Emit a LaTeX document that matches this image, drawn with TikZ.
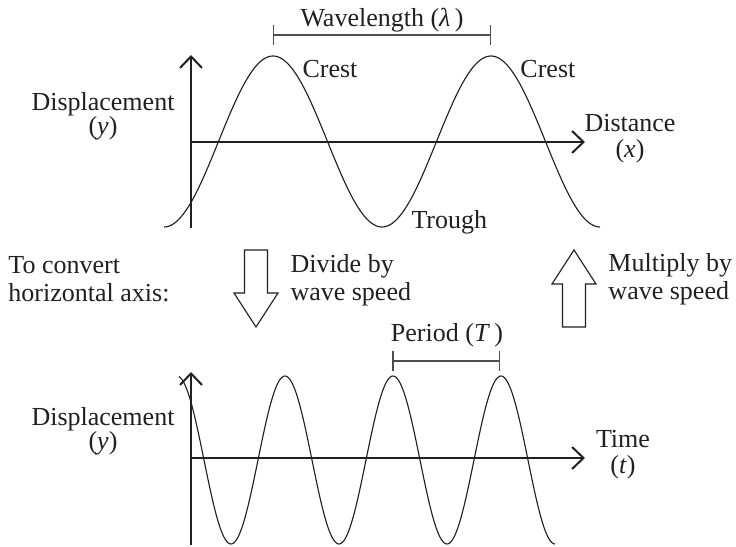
\documentclass[tikz,border=0pt]{standalone}
\usepackage{fontspec}
\setmainfont{Liberation Serif}
\usetikzlibrary{arrows.meta}
\definecolor{ink}{HTML}{231F20}
\definecolor{bar}{HTML}{4D4D4D}

\begin{document}
\begin{tikzpicture}[
  x=0.4pt,y=-0.4pt,
  font=\fontsize{10.4}{11.2}\selectfont,
  axis/.style={draw=ink,line width=.45pt,-{Straight Barb[length=4.6pt,width=8.8pt,line width=.8pt]}},
  wave/.style={draw=ink,line width=.45pt,samples=300,smooth},
  span/.style={draw=bar,line width=.5pt,{Bar[width=8pt]}-{Bar[width=8pt]}},
  blk/.style={draw=ink,line width=.45pt,fill=white},
  lab/.style={text=ink,inner sep=0pt,anchor=base west},
  ctr/.style={text=ink,inner sep=0pt,align=center,anchor=base}
]
\useasboundingbox (0,0) rectangle (736,547);

% distance graph
\coordinate (o1) at (191,142);
\coordinate (y1) at (191,55);
\coordinate (x1) at (585,142);
\draw[axis] (191,228) -- (y1);
\draw[axis] (o1) -- (x1);
\draw[wave] plot[domain=164:600] (\x,{141.5-85.5*cos((\x-273)/218*360)});
\coordinate (wa) at (273,35);
\coordinate (wb) at (491,35);
\draw[span] (wa) -- (wb);
\node[ctr] (wl) at (382,26) {Wavelength (\textit{λ}\,)};
\node[lab] (crest1) at (302,77) {Crest};
\node[lab] (crest2) at (520,77) {Crest};
\node[lab] (trough) at (411,228) {Trough};
% base of a two-line node = baseline of its last line
\node[ctr] (disp1) at (103,134) {Displacement\\[-1.6pt](\textit{y})};
\node[ctr] (dist) at (630,157) {Distance\\[-0.8pt](\textit{x})};

% conversion arrows
\node[lab,align=left] (conv) at (8,301) {To convert\\horizontal axis:};
\draw[blk,shift={(256,288.5)}] (-11.5,-38.5) -- (11.5,-38.5) -- (11.5,4.5) -- (22,4.5)
  -- (0,38.5) -- (-22,4.5) -- (-11.5,4.5) -- cycle;
\node[lab,align=left] (div) at (290,300) {Divide by\\wave speed};
\draw[blk,shift={(574,288.5)},rotate=180] (-11.5,-38.5) -- (11.5,-38.5) -- (11.5,4.5) -- (22,4.5)
  -- (0,38.5) -- (-22,4.5) -- (-11.5,4.5) -- cycle;
\node[lab,align=left] (mul) at (608,299) {Multiply by\\wave speed};

% time graph
\coordinate (o2) at (191,458);
\coordinate (y2) at (191,372);
\coordinate (x2) at (585,458);
\draw[axis] (191,545) -- (y2);
\draw[axis] (o2) -- (x2);
\draw[wave] plot[domain=179:555] (\x,{460-84*cos((\x-285)/108*360)});
\coordinate (pa) at (392.5,361);
\coordinate (pb) at (500.5,361);
\draw[span] (pa) -- (pb);
\node[ctr] (per) at (447,341.7) {Period (\textit{T}\,)};
\node[ctr] (disp2) at (103,449) {Displacement\\[-1.6pt](\textit{y})};
\node[ctr] (time) at (623,473) {Time\\[-0.8pt](\textit{t})};
\end{tikzpicture}
\end{document}
